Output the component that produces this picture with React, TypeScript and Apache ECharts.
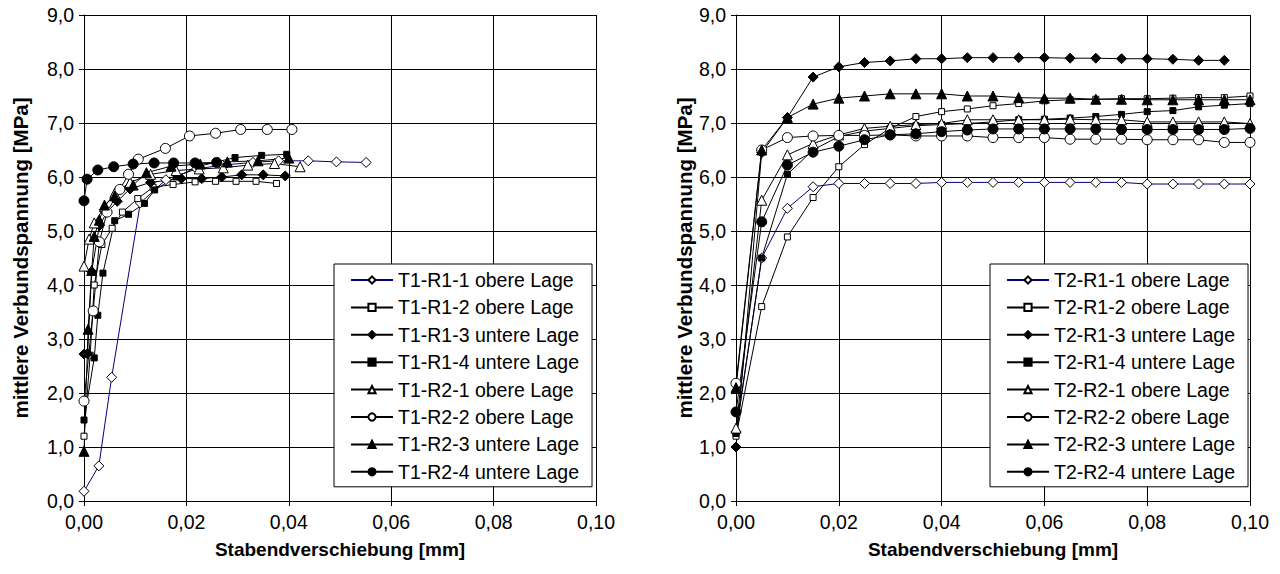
import React, { useEffect, useRef } from "react";
import * as echarts from "echarts";

// ---------- DATA ----------
const X_TICKS = [0, 0.02, 0.04, 0.06, 0.08, 0.1];
const Y_TICKS = [0, 1, 2, 3, 4, 5, 6, 7, 8, 9];

const T1_NAMES = [
  "T1-R1-1 obere Lage",
  "T1-R1-2 obere Lage",
  "T1-R1-3 untere Lage",
  "T1-R1-4 untere Lage",
  "T1-R2-1 obere Lage",
  "T1-R2-2 obere Lage",
  "T1-R2-3 untere Lage",
  "T1-R2-4 untere Lage",
];
const T2_NAMES = [
  "T2-R1-1 obere Lage",
  "T2-R1-2 obere Lage",
  "T2-R1-3 untere Lage",
  "T2-R1-4 untere Lage",
  "T2-R2-1 obere Lage",
  "T2-R2-2 obere Lage",
  "T2-R2-3 untere Lage",
  "T2-R2-4 untere Lage",
];

// T1 (left chart): [Stabendverschiebung mm, Verbundspannung MPa]
const T1_R1_1 = [[0, 0.18], [0.0029, 0.65], [0.0054, 2.29], [0.011, 5.52], [0.016, 5.95], [0.022, 6.15], [0.027, 6.22], [0.033, 6.27], [0.038, 6.3], [0.0438, 6.3], [0.0493, 6.28], [0.0551, 6.27]];
const T1_R1_2 = [[0, 1.2], [0.0012, 2.7], [0.002, 4.0], [0.0035, 4.75], [0.0055, 5.05], [0.0075, 5.35], [0.0105, 5.6], [0.0135, 5.81], [0.0174, 5.86], [0.0217, 5.91], [0.0257, 5.92], [0.0297, 5.92], [0.0336, 5.92], [0.0376, 5.88]];
const T1_R1_3 = [[0, 2.72], [0.0007, 2.73], [0.0015, 4.25], [0.003, 5.1], [0.0045, 5.35], [0.0065, 5.55], [0.009, 5.78], [0.013, 5.9], [0.019, 5.97], [0.023, 5.97], [0.0269, 6.0], [0.0308, 6.04], [0.035, 6.04], [0.0393, 6.02]];
const T1_R1_4 = [[0, 1.5], [0.002, 2.65], [0.0027, 3.44], [0.0037, 4.22], [0.006, 5.19], [0.0087, 5.31], [0.0118, 5.51], [0.0138, 5.76], [0.018, 6.0], [0.0225, 6.2], [0.0295, 6.36], [0.0347, 6.4], [0.0396, 6.42]];
const T1_R2_1 = [[0, 4.35], [0.001, 4.85], [0.002, 5.15], [0.004, 5.45], [0.006, 5.7], [0.009, 5.9], [0.013, 6.05], [0.018, 6.12], [0.0225, 6.15], [0.0272, 6.17], [0.032, 6.22], [0.0372, 6.25], [0.0422, 6.19]];
const T1_R2_2 = [[0, 1.85], [0.0018, 3.52], [0.003, 4.8], [0.0045, 5.35], [0.007, 5.77], [0.0087, 6.05], [0.0106, 6.33], [0.0159, 6.53], [0.0206, 6.76], [0.0257, 6.81], [0.0306, 6.88], [0.0358, 6.88], [0.0406, 6.88]];
const T1_R2_3 = [[0, 0.92], [0.0008, 3.18], [0.0015, 4.27], [0.002, 4.9], [0.003, 5.2], [0.004, 5.48], [0.006, 5.65], [0.0096, 5.85], [0.0122, 6.08], [0.017, 6.2], [0.0227, 6.24], [0.028, 6.28], [0.034, 6.3], [0.04, 6.35]];
const T1_R2_4 = [[0, 5.56], [0.0006, 5.96], [0.0027, 6.13], [0.0058, 6.19], [0.0096, 6.24], [0.0137, 6.26], [0.0175, 6.26], [0.0217, 6.26], [0.0259, 6.27]];

// T2 (right chart): shared displacement steps
const T2_X = [0, 0.005, 0.01, 0.015, 0.02, 0.025, 0.03, 0.035, 0.04, 0.045, 0.05, 0.055, 0.06, 0.065, 0.07, 0.075, 0.08, 0.085, 0.09, 0.095, 0.1];
const T2_R1_1 = [1.28, 4.5, 5.42, 5.82, 5.88, 5.88, 5.88, 5.88, 5.9, 5.9, 5.9, 5.9, 5.9, 5.9, 5.9, 5.9, 5.87, 5.87, 5.87, 5.87, 5.87];
const T2_R1_2 = [1.2, 3.6, 4.89, 5.62, 6.19, 6.6, 6.9, 7.12, 7.21, 7.26, 7.32, 7.36, 7.41, 7.43, 7.44, 7.45, 7.45, 7.46, 7.47, 7.47, 7.5];
const T2_R1_3 = [1.0, 6.45, 7.1, 7.85, 8.04, 8.12, 8.15, 8.19, 8.19, 8.21, 8.21, 8.21, 8.21, 8.2, 8.2, 8.19, 8.19, 8.18, 8.16, 8.16];
const T2_R1_4 = [1.25, 4.5, 6.05, 6.5, 6.75, 6.85, 6.9, 6.95, 6.97, 6.99, 7.02, 7.06, 7.07, 7.09, 7.12, 7.16, 7.21, 7.23, 7.3, 7.33, 7.36];
const T2_R2_1 = [1.35, 5.57, 6.41, 6.62, 6.78, 6.9, 6.94, 6.97, 6.99, 7.06, 7.06, 7.06, 7.06, 7.07, 7.06, 7.06, 7.02, 7.02, 7.02, 7.02, 6.99];
const T2_R2_2 = [2.18, 6.5, 6.73, 6.76, 6.77, 6.77, 6.78, 6.76, 6.76, 6.76, 6.73, 6.73, 6.73, 6.7, 6.7, 6.7, 6.69, 6.69, 6.69, 6.64, 6.64];
const T2_R2_3 = [2.1, 6.5, 7.1, 7.35, 7.46, 7.5, 7.54, 7.54, 7.54, 7.5, 7.5, 7.47, 7.46, 7.46, 7.44, 7.44, 7.43, 7.43, 7.43, 7.43, 7.43];
const T2_R2_4 = [1.65, 5.17, 6.22, 6.46, 6.57, 6.69, 6.78, 6.8, 6.84, 6.87, 6.89, 6.89, 6.89, 6.89, 6.89, 6.88, 6.88, 6.88, 6.88, 6.88, 6.9];

// ---------- STYLES ----------
const FONT = "'Liberation Sans', Arial, sans-serif";
const NAVY = "#000080";
const TICK_FONT = 19.5;

type Marker = { symbol: string; size: number; filled: boolean; line: string };
const MARKERS: Marker[] = [
  { symbol: "diamond", size: 10, filled: false, line: NAVY },
  { symbol: "rect", size: 6, filled: false, line: "#000" },
  { symbol: "diamond", size: 10, filled: true, line: "#000" },
  { symbol: "rect", size: 6, filled: true, line: "#000" },
  { symbol: "triangle", size: 10, filled: false, line: "#000" },
  { symbol: "circle", size: 10, filled: false, line: "#000" },
  { symbol: "triangle", size: 10, filled: true, line: "#000" },
  { symbol: "circle", size: 10, filled: true, line: "#000" },
];

function makeSeries(name: string, data: number[][], m: Marker, idx: number) {
  return {
    type: "line",
    name,
    data,
    xAxisIndex: idx,
    yAxisIndex: idx,
    symbol: m.symbol,
    symbolSize: m.size,
    showAllSymbol: true,
    color: m.filled ? "#000" : "#fff",
    lineStyle: { color: m.line, width: 1 },
    itemStyle: { color: m.filled ? "#000" : "#fff", borderColor: "#000", borderWidth: 1 },
    emphasis: { disabled: true },
  };
}

function xAxis(idx: number) {
  return {
    type: "value",
    gridIndex: idx,
    min: 0,
    max: 0.1,
    interval: 0.02,
    name: "Stabendverschiebung [mm]",
    nameLocation: "middle",
    nameGap: 39,
    nameTextStyle: { fontFamily: FONT, fontSize: 19, fontWeight: "bold", color: "#000" },
    axisLine: { show: true, onZero: false, lineStyle: { color: "#000", width: 1 } },
    axisTick: { show: true, inside: false, length: 5, lineStyle: { color: "#000" } },
    axisLabel: {
      margin: 11,
      fontFamily: FONT,
      fontSize: TICK_FONT,
      color: "#000",
      formatter: (v: number) => v.toFixed(2).replace(".", ","),
    },
    splitLine: { show: true, lineStyle: { color: "#000", width: 1 } },
  };
}

function yAxis(idx: number, gap: number) {
  return {
    type: "value",
    gridIndex: idx,
    min: 0,
    max: 9,
    interval: 1,
    name: "mittlere Verbundspannung [MPa]",
    nameLocation: "middle",
    nameRotate: 90,
    nameGap: gap,
    nameTextStyle: { fontFamily: FONT, fontSize: 20.5, fontWeight: "bold", color: "#000" },
    axisLine: { show: true, onZero: false, lineStyle: { color: "#000", width: 1 } },
    axisTick: { show: true, inside: false, length: 5, lineStyle: { color: "#000" } },
    axisLabel: {
      margin: 10,
      fontFamily: FONT,
      fontSize: TICK_FONT,
      color: "#000",
      formatter: (v: number) => v.toFixed(1).replace(".", ","),
    },
    splitLine: { show: true, lineStyle: { color: "#000", width: 1 } },
  };
}

function legend(names: string[], left: number) {
  return {
    orient: "vertical",
    left,
    top: 264,
    data: names,
    itemWidth: 42,
    itemHeight: 9,
    itemGap: 7.4,
    padding: [6, 13, 5, 16],
    backgroundColor: "#fff",
    borderColor: "#000",
    borderWidth: 1,
    selectedMode: false,
    textStyle: { fontFamily: FONT, fontSize: TICK_FONT, color: "#000" },
  };
}

export default function App() {
  const ref = useRef<HTMLDivElement>(null);
  useEffect(() => {
    if (!ref.current) return;
    const chart = echarts.init(ref.current, null, { renderer: "svg" });
    const t1 = [T1_R1_1, T1_R1_2, T1_R1_3, T1_R1_4, T1_R2_1, T1_R2_2, T1_R2_3, T1_R2_4];
    const t2y = [T2_R1_1, T2_R1_2, T2_R1_3, T2_R1_4, T2_R2_1, T2_R2_2, T2_R2_3, T2_R2_4];
    const t2 = t2y.map((ys) => ys.map((y, i) => [T2_X[i], y]));
    const series: any[] = [];
    T1_NAMES.forEach((n, i) => series.push(makeSeries(n, t1[i], MARKERS[i], 0)));
    T2_NAMES.forEach((n, i) => series.push(makeSeries(n, t2[i], MARKERS[i], 1)));
    chart.setOption({
      animation: false,
      backgroundColor: "#fff",
      textStyle: { fontFamily: FONT },
      grid: [
        { left: 84, top: 15, width: 512, height: 486 },
        { left: 736, top: 15, width: 514, height: 486 },
      ],
      xAxis: [xAxis(0), xAxis(1)],
      yAxis: [yAxis(0, 53), yAxis(1, 40)],
      legend: [legend(T1_NAMES, 334), legend(T2_NAMES, 990)],
      series,
    });
    return () => chart.dispose();
  }, []);
  return (
    <div
      ref={ref}
      style={{ position: "fixed", left: 0, top: 0, width: 1280, height: 574, background: "#fff" }}
    />
  );
}
